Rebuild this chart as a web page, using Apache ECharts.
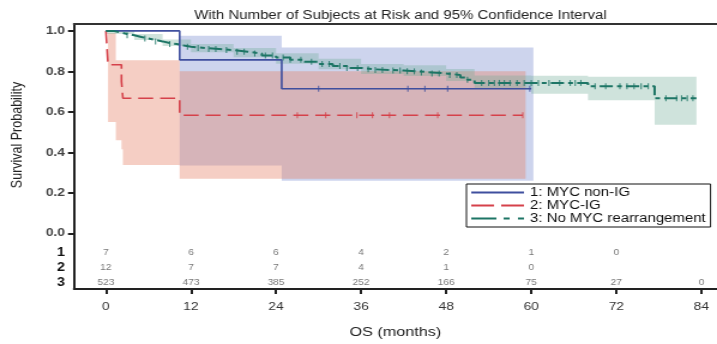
<!DOCTYPE html>
<html><head><meta charset="utf-8">
<script src="https://cdn.jsdelivr.net/npm/echarts@6/dist/echarts.min.js"></script>
<style>
html,body{margin:0;padding:0;background:#fff;overflow:hidden;width:717px;height:344px}
#c{width:598px;height:344px;transform:scaleX(1.199);transform-origin:0 0}
</style>
</head><body><div id="c"></div>
<script>
// ---------- data ----------
const groupNames = ['1: MYC non-IG', '2: MYC-IG', '3: No MYC rearrangement'];
const xTicks = [0, 12, 24, 36, 48, 60, 72, 84];
const yTicks = [0, 0.2, 0.4, 0.6, 0.8, 1.0];
const atRiskTimes = [0, 12, 24, 36, 48, 60, 72, 84];
const atRisk1 = [7, 6, 6, 4, 2, 1, 0];
const atRisk2 = [12, 7, 7, 4, 1, 0];
const atRisk3 = [523, 473, 385, 252, 166, 75, 27, 0];

// Kaplan-Meier step curves (time in months, survival)
const blueT = [0, 10.4, 24.8, 60];
const blueS = [1.0, 0.857, 0.714, 0.714];
const redT = [0, 0.3, 2.2, 2.4, 10.4, 58.8];
const redS = [1.0, 0.833, 0.75, 0.667, 0.583, 0.583];
const greenT = [0, 1, 2, 3, 4, 5, 6, 7, 8, 9, 10, 11, 12, 14, 16, 18, 20, 22, 24, 26, 28, 30, 32, 34, 36, 38, 40, 42, 44, 46, 48, 50, 51, 52, 68, 77.4, 83.3];
const greenS = [1.0, 0.993, 0.985, 0.978, 0.97, 0.962, 0.955, 0.948, 0.94, 0.935, 0.928, 0.922, 0.915, 0.91, 0.905, 0.897, 0.888, 0.878, 0.868, 0.857, 0.847, 0.837, 0.827, 0.817, 0.81, 0.807, 0.804, 0.8, 0.795, 0.79, 0.782, 0.77, 0.758, 0.743, 0.727, 0.667, 0.667];

// 95% confidence bands (step boundaries, lower, upper)
const blueBandT = [10.4, 24.8, 60.3];
const blueBandLo = [0.335, 0.26];
const blueBandHi = [0.976, 0.918];
const redBandT = [0.3, 1.4, 2.2, 2.4, 10.4, 59.2];
const redBandLo = [0.55, 0.46, 0.415, 0.338, 0.27];
const redBandHi = [0.99, 0.855, 0.855, 0.855, 0.80];
const greenBandT = [0, 4, 8, 12, 18, 24, 30, 36, 42, 48, 52, 56, 60, 68, 77.4, 83.3];
const greenBandLo = [0.985, 0.955, 0.925, 0.895, 0.87, 0.838, 0.81, 0.787, 0.777, 0.752, 0.715, 0.71, 0.69, 0.657, 0.536];
const greenBandHi = [1.0, 0.985, 0.957, 0.935, 0.915, 0.89, 0.862, 0.837, 0.83, 0.812, 0.78, 0.78, 0.778, 0.773, 0.773];

// censoring times
const blueCens = [30, 42.6, 45, 48.2, 59.8];
const redCens = [27, 31, 35.4, 37.6, 40, 46.8, 58.8];
const greenCens = [3, 5.5, 7, 9, 11.5, 13, 14.5, 15.5, 17, 18.5, 19.5, 21, 22.5, 23.5, 25, 26, 27.5, 29, 30.5, 31.5, 33, 34, 35.5, 37, 38, 39, 40.5, 41.5, 42.5, 43.5, 44.5, 46, 47, 48.5, 49.5, 51, 53, 54, 54.8, 55.5, 56.2, 57, 58, 59, 60, 61, 62.5, 64, 65.5, 66.2, 67, 69, 70.5, 72.5, 73.5, 74.5, 75.5, 76.5, 79, 80.5, 81.2, 82, 82.8];

// ---------- styling / layout ----------
const C_BLUE = '#3f4f9e', C_RED = '#d5414a', C_GREEN = '#1d7565';
const FONT = 'Liberation Sans, Arial, sans-serif';
const rowY = [-0.097, -0.169, -0.2415];
const legendIcons = [
  'path://M0,0h44v2h-44z',
  'path://M0,0h19v2h-19z M25,0h19v2h-19z',
  'path://M0,0h21v2h-21z M27,0h5v2h-5z M39,0h5v2h-5z'
];

function pairs(T, S) { return T.map((t, i) => [t, S[i]]); }
function survAt(T, S, t) { let v = S[0]; for (let i = 0; i < T.length; i++) { if (T[i] <= t) v = S[i]; } return v; }
function bandSeries(T, lo, hi, color) {
  return {
    type: 'custom', silent: true, z: 1, clip: true,
    data: [[T[0], lo[0]]],
    renderItem: (params, api) => {
      const pts = [];
      for (let i = 0; i < lo.length; i++) { pts.push(api.coord([T[i], hi[i]])); pts.push(api.coord([T[i + 1], hi[i]])); }
      for (let i = lo.length - 1; i >= 0; i--) { pts.push(api.coord([T[i + 1], lo[i]])); pts.push(api.coord([T[i], lo[i]])); }
      return { type: 'polygon', shape: { points: pts }, style: { fill: color } };
    }
  };
}
function censSeries(name, T, S, times, color) {
  return {
    name, type: 'scatter', z: 4, silent: true, symbol: 'rect', symbolSize: [1.1, 6],
    itemStyle: { color }, data: times.map(t => [t, survAt(T, S, t)])
  };
}
function riskSeries(name, counts, row) {
  return {
    name, type: 'scatter', silent: true, symbolSize: 1, itemStyle: { color: 'rgba(0,0,0,0)' },
    label: { show: true, position: 'inside', formatter: p => String(p.value[2]), fontSize: 8.5, color: '#555', fontFamily: FONT },
    data: counts.map((n, i) => [atRiskTimes[i], rowY[row], n])
  };
}

const chart = echarts.init(document.getElementById('c'), null, { renderer: 'canvas' });
chart.setOption({
  animation: false,
  textStyle: { fontFamily: FONT },
  title: {
    text: 'With Number of Subjects at Risk and 95% Confidence Interval',
    left: 329, top: 4, textAlign: 'center',
    textStyle: { fontSize: 12.5, fontWeight: 'normal', color: '#222', fontFamily: FONT }
  },
  grid: { left: 61.7, top: 24, right: 0, bottom: 49, containLabel: false },
  xAxis: [{
    type: 'value', min: -4.5, max: 86.2,
    axisLine: { show: true, onZero: false, lineStyle: { color: '#222', width: 2 } },
    axisTick: { show: true, customValues: xTicks, length: 5, lineStyle: { color: '#222', width: 2 } },
    axisLabel: { customValues: xTicks, fontSize: 11.5, color: '#333', margin: 12 },
    splitLine: { show: false },
    name: 'OS (months)', nameLocation: 'middle', nameGap: 36,
    nameTextStyle: { fontSize: 13.5, color: '#222' }
  }, {
    type: 'value', min: -4.5, max: 86.2, position: 'top',
    axisLine: { show: true, onZero: false, lineStyle: { color: '#333', width: 2 } },
    axisTick: { show: false }, axisLabel: { show: false }, splitLine: { show: false }
  }],
  yAxis: {
    type: 'value', min: -0.275, max: 1.034,
    axisLine: { show: true, onZero: false, lineStyle: { color: '#222', width: 2 } },
    axisTick: { show: true, customValues: yTicks, length: 5, lineStyle: { color: '#222', width: 2 } },
    axisLabel: {
      customValues: yTicks.concat(rowY), margin: 7.5,
      formatter: v => { const r = rowY.findIndex(y => Math.abs(y - v) < 1e-6); return r >= 0 ? '{r|' + (r + 1) + '}' : v.toFixed(1); },
      fontSize: 11.5, fontWeight: 'bold', color: '#444',
      rich: { r: { fontSize: 12, fontWeight: 'bold', color: '#111' } }
    },
    splitLine: { show: false }
  },
  legend: {
    data: groupNames.map((n, i) => ({ name: n, icon: legendIcons[i] })),
    orient: 'vertical', left: 389, top: 184,
    backgroundColor: '#fff', borderColor: '#111', borderWidth: 1, padding: [2, 4, 2, 4],
    itemWidth: 44, itemHeight: 2, itemGap: 0, selectedMode: false,
    itemStyle: { borderWidth: 0 },
    textStyle: { fontSize: 12.5, color: '#111', lineHeight: 12 }
  },
  graphic: [{
    type: 'text', x: 15, y: 135, rotation: Math.PI / 2,
    style: { text: 'Survival Probability', fontSize: 12.5, fill: '#222', fontFamily: FONT, textAlign: 'center', textVerticalAlign: 'middle', align: 'center', verticalAlign: 'middle' }
  }],
  series: [
    bandSeries(blueBandT, blueBandLo, blueBandHi, 'rgba(100,120,200,0.32)'),
    bandSeries(redBandT, redBandLo, redBandHi, 'rgba(228,125,100,0.38)'),
    bandSeries(greenBandT, greenBandLo, greenBandHi, 'rgba(110,170,150,0.33)'),
    { name: groupNames[0], type: 'line', step: 'end', symbol: 'none', z: 3, data: pairs(blueT, blueS), lineStyle: { color: C_BLUE, width: 1.6 }, itemStyle: { color: C_BLUE } },
    { name: groupNames[1], type: 'line', step: 'end', symbol: 'none', z: 3, data: pairs(redT, redS), lineStyle: { color: C_RED, width: 1.6, type: [12.5, 5.8] }, itemStyle: { color: C_RED } },
    { name: groupNames[2], type: 'line', step: 'end', symbol: 'none', z: 3, data: pairs(greenT, greenS), lineStyle: { color: C_GREEN, width: 2, type: [11, 3.5, 4, 3.5] }, itemStyle: { color: C_GREEN } },
    censSeries('c1', blueT, blueS, blueCens, C_BLUE),
    censSeries('c2', redT, redS, redCens, C_RED),
    censSeries('c3', greenT, greenS, greenCens, C_GREEN),
    riskSeries('r1', atRisk1, 0),
    riskSeries('r2', atRisk2, 1),
    riskSeries('r3', atRisk3, 2)
  ]
});
</script>
</body></html>
